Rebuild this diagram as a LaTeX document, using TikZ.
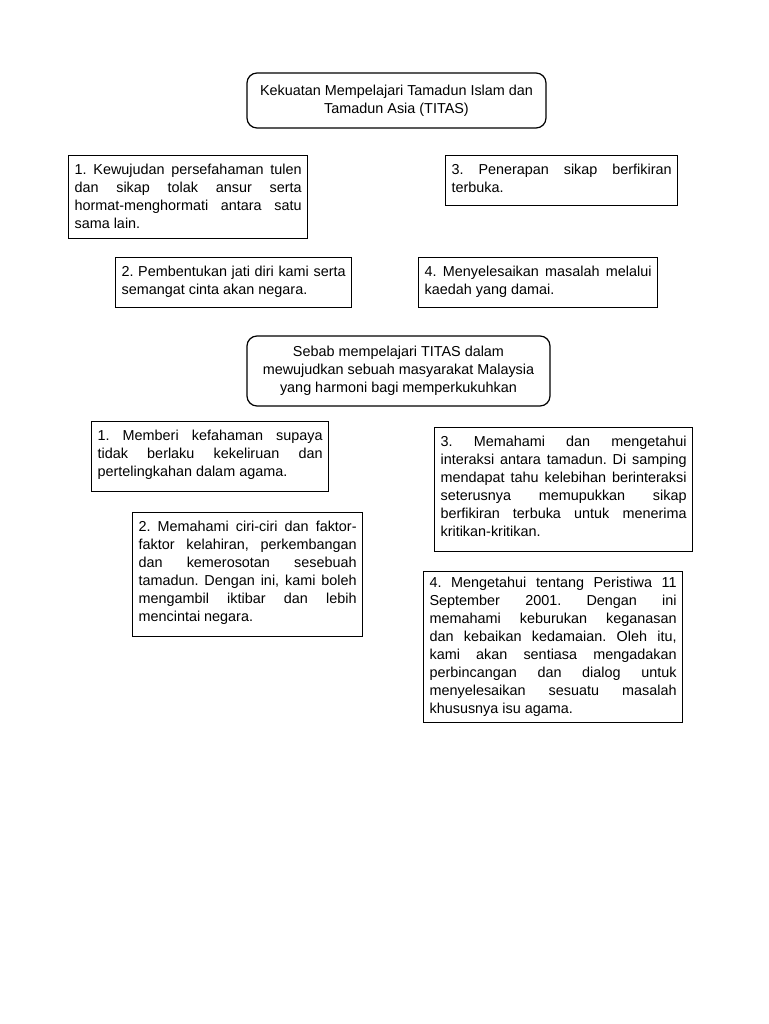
\documentclass[tikz,border=0pt]{standalone}
\usepackage{fontspec}
\setmainfont{Liberation Sans}
\usetikzlibrary{positioning}
% top-aligned justified text block of fixed size
\newcommand{\isi}[3]{\parbox[c][#2][t]{#1}{\frenchspacing\tolerance=10000\hyphenpenalty=10000\exhyphenpenalty=10000\relax #3}}

\begin{document}
\begin{tikzpicture}[
    x=0.75pt, y=-0.75pt,
    kotak/.style={rectangle, draw=black, line width=0.9pt, anchor=north west, inner xsep=4.5pt, inner ysep=6pt, font=\fontsize{10.8}{13.5}\selectfont},
    bulat/.style={rectangle, draw=black, line width=0.9pt, rounded corners=7.5pt, align=center, font=\fontsize{10.8}{13.5}\selectfont}
]
    \fill[white] (0,0) rectangle (768,1024);

    % Part 1: Kekuatan TITAS
    \node (kuat) at (396.5,100.5) [bulat, minimum width=224.25pt, minimum height=41.25pt] {Kekuatan Mempelajari Tamadun Islam dan\\Tamadun Asia (TITAS)};

    \node (k1) at (68,155) [kotak] {\isi{170.25pt}{50.25pt}{1. Kewujudan persefahaman tulen\linebreak dan sikap tolak ansur serta\linebreak hormat-menghormati antara satu\linebreak sama lain.}};
    \node (k3) at (445,155) [kotak] {\isi{165pt}{25.5pt}{3. Penerapan sikap berfikiran\linebreak terbuka.}};
    \node (k2) at (115,257) [kotak] {\isi{168pt}{25.5pt}{2. Pembentukan jati diri kami serta\linebreak semangat cinta akan negara.}};
    \node (k4) at (418,257) [kotak] {\isi{170.25pt}{25.5pt}{4. Menyelesaikan masalah melalui\linebreak kaedah yang damai.}};

    % Part 2: Sebab mempelajari TITAS
    \node (sebab) at (398.5,371) [bulat, minimum width=227.25pt, minimum height=52.5pt] {Sebab mempelajari TITAS dalam\\mewujudkan sebuah masyarakat Malaysia\\yang harmoni bagi memperkukuhkan};

    \node (s1) at (91,421) [kotak] {\isi{168.75pt}{40.5pt}{1. Memberi kefahaman supaya\linebreak tidak berlaku kekeliruan dan\linebreak pertelingkahan dalam agama.}};
    \node (s2) at (132,512) [kotak] {\isi{163.5pt}{81pt}{2. Memahami ciri-ciri dan faktor-\linebreak faktor kelahiran, perkembangan\linebreak dan kemerosotan sesebuah\linebreak tamadun. Dengan ini, kami boleh\linebreak mengambil iktibar dan lebih\linebreak mencintai negara.}};
    \node (s3) at (434,427) [kotak] {\isi{184.5pt}{81pt}{3. Memahami dan mengetahui\linebreak interaksi antara tamadun. Di samping\linebreak mendapat tahu kelebihan berinteraksi\linebreak seterusnya memupukkan sikap\linebreak berfikiran terbuka untuk menerima\linebreak kritikan-kritikan.}};
    \node (s4) at (423,571) [kotak, inner ysep=4pt] {\isi{185.25pt}{105.25pt}{4. Mengetahui tentang Peristiwa 11\linebreak September 2001. Dengan ini\linebreak memahami keburukan keganasan\linebreak dan kebaikan kedamaian. Oleh itu,\linebreak kami akan sentiasa mengadakan\linebreak perbincangan dan dialog untuk\linebreak menyelesaikan sesuatu masalah\linebreak khususnya isu agama.}};

\end{tikzpicture}
\end{document}
